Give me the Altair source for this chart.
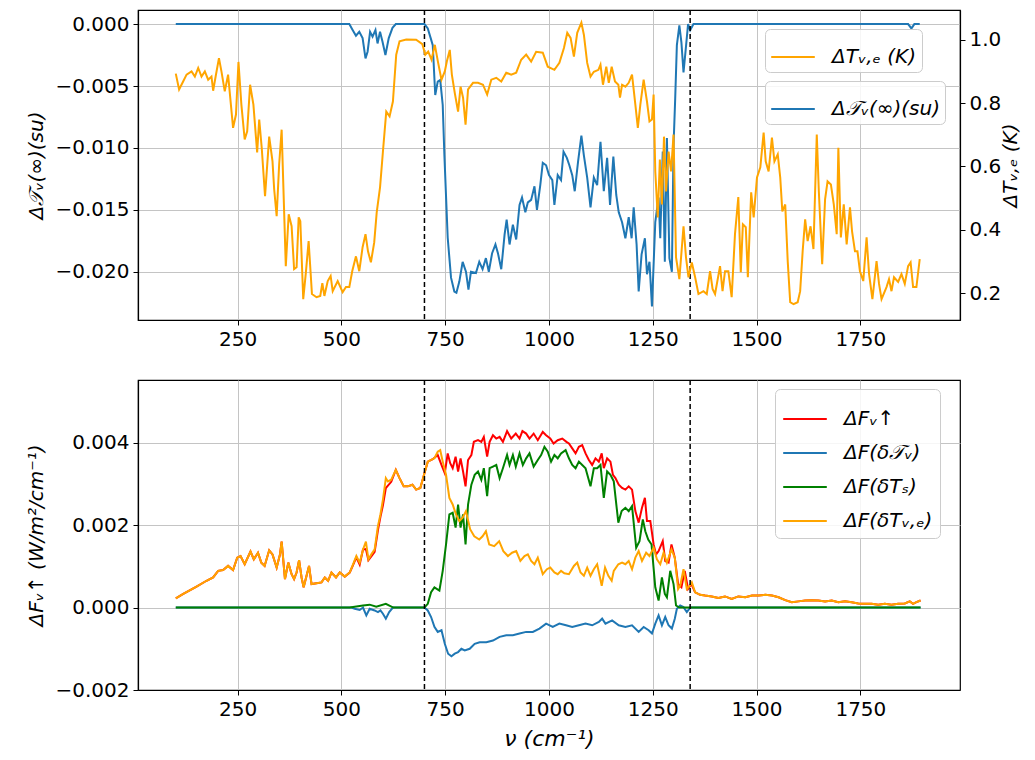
import altair as alt
import pandas as pd

# ---------------- top panel ----------------
# change of spectral transmittance (left axis, su)
tau_nu = [101, 519, 527, 535, 543, 551, 558, 563, 569, 575, 582, 587, 593, 599, 606, 614, 623, 631,
          700, 708, 715, 720, 726, 732, 738, 744, 748, 756, 764, 772, 777, 784, 792, 800, 806, 812,
          824, 832, 840, 848, 855, 863, 871, 877, 885, 893, 898, 905, 913, 921, 929, 935, 943, 949,
          957, 965, 971, 979, 985, 993, 1000, 1008, 1013, 1021, 1029, 1035, 1043, 1049, 1056, 1062,
          1070, 1078, 1084, 1092, 1100, 1108, 1116, 1124, 1132, 1140, 1147, 1155, 1162, 1168, 1176,
          1184, 1192, 1199, 1204, 1211, 1216, 1223, 1231, 1236, 1242, 1248, 1256, 1264, 1268, 1274,
          1279, 1284, 1290, 1296, 1300, 1304, 1308, 1314, 1319, 1324, 1328, 1335, 1340, 1348, 1865,
          1873, 1880, 1893]
tau_val = [0, 0, -0.00048, -0.00094, -0.00062, -0.00113, -0.00277, -0.00223, -0.00062, -0.00102,
           -0.00048, -0.00156, -0.00062, -0.00142, -0.0025, -0.00113, -0.0003, 0,
           0, -0.00035, -0.00113, -0.0017, -0.00573, -0.00465, -0.00452, -0.00653, -0.01056, -0.01726,
           -0.02048, -0.0216, -0.0217, -0.0208, -0.0192, -0.0200, -0.02145, -0.0200,
           -0.0201, -0.0192, -0.0198, -0.0189, -0.0200, -0.0185, -0.0178, -0.0185, -0.0198, -0.0170,
           -0.0158, -0.0178, -0.0162, -0.0174, -0.0146, -0.0140, -0.0152, -0.0144,
           -0.0142, -0.0131, -0.0150, -0.0130, -0.0112, -0.0114, -0.0122, -0.0126, -0.0146, -0.0122,
           -0.0126, -0.0103, -0.0108, -0.0114, -0.0122, -0.0135,
           -0.0111, -0.0090, -0.0106, -0.0124, -0.0148, -0.0124, -0.0130, -0.0095, -0.0135, -0.0108,
           -0.0146, -0.0107, -0.0138, -0.0152, -0.0160,
           -0.0173, -0.0156, -0.0173, -0.0148, -0.0178, -0.0216, -0.0186, -0.0173, -0.0202, -0.0192,
           -0.0228, -0.0160, -0.0140, -0.0173, -0.0103,
           -0.0192, -0.0092, -0.0189, -0.0200, -0.0098, -0.0060, -0.0017, -0.0001, -0.0015, -0.0039,
           -0.0025, 0, -0.0005, 0, 0,
           -0.00035, 0, 0]

# change of emission temperature (right axis, K)
te_nu = [101, 109, 119, 127, 139, 147, 155, 163, 171, 179, 187, 191, 197, 205, 211, 219, 227, 239,
         246, 252, 259, 267, 273, 280, 288, 297, 302, 308, 316, 326, 334, 338, 344, 350, 356, 366,
         373, 380, 386, 392, 397, 401, 408, 414, 421, 429, 440, 449, 454, 459, 467, 474, 479, 491,
         503, 511, 519, 526, 535, 543, 551, 558, 564, 571, 579, 585, 593, 600, 608, 616, 624, 632,
         640, 656, 680, 695, 702, 709, 717, 725, 733, 741, 749, 754, 761, 766, 773, 781, 787, 793,
         799, 805, 817, 829, 841, 851, 861, 873, 885, 897, 909, 921, 933, 945, 957, 969, 985, 997,
         1013, 1025, 1036, 1044, 1052, 1060, 1068, 1078, 1084, 1092, 1100, 1108, 1119, 1124, 1130,
         1138, 1144, 1151, 1159, 1167, 1171, 1176, 1184, 1192, 1200, 1208, 1214, 1220, 1228, 1236,
         1242, 1248, 1252, 1256, 1262, 1267, 1272, 1277, 1282, 1288, 1294, 1300, 1306, 1314, 1324,
         1330, 1336, 1344, 1352, 1360, 1372, 1380, 1388, 1394, 1400, 1412, 1418, 1424, 1432, 1440,
         1448, 1456, 1462, 1467, 1474, 1479, 1487, 1493, 1501, 1509, 1517, 1522, 1529, 1537, 1543,
         1551, 1557, 1562, 1569, 1575, 1581, 1589, 1599, 1605, 1611, 1617, 1623, 1630, 1637, 1645,
         1650, 1658, 1665, 1671, 1679, 1686, 1693, 1697, 1703, 1710, 1717, 1725, 1730, 1737, 1743,
         1749, 1757, 1765, 1771, 1779, 1789, 1795, 1801, 1813, 1819, 1825, 1831, 1841, 1849, 1857,
         1865, 1871, 1877, 1885, 1893]
te_val = [0.893, 0.843, 0.869, 0.890, 0.900, 0.884, 0.911, 0.884, 0.900, 0.874, 0.884, 0.839, 0.884,
          0.942, 0.900, 0.837, 0.890, 0.722,
          0.764, 0.930, 0.795, 0.685, 0.711, 0.858, 0.795, 0.644, 0.748, 0.659, 0.506, 0.694, 0.616,
          0.528, 0.443, 0.606, 0.716, 0.285,
          0.449, 0.411, 0.276, 0.282, 0.439, 0.427, 0.181, 0.260, 0.364, 0.197, 0.187, 0.191, 0.231,
          0.191, 0.238, 0.254, 0.206, 0.238,
          0.203, 0.219, 0.219, 0.269, 0.316, 0.269, 0.345, 0.386, 0.332, 0.297, 0.360, 0.455, 0.534,
          0.647, 0.773, 0.758, 0.805, 0.953,
          0.995, 1.001, 1.000, 0.986, 0.953, 0.963, 0.937, 0.984, 0.927, 0.874, 0.900, 0.932, 0.968,
          0.890, 0.832, 0.773, 0.852, 0.817,
          0.732, 0.843, 0.864, 0.864, 0.858, 0.827, 0.874, 0.880, 0.868, 0.896, 0.890, 0.896, 0.937,
          0.953, 0.931, 0.962, 0.959, 0.915,
          0.905, 0.927, 0.974, 1.022, 1.006, 0.947, 1.022, 1.054, 1.016, 0.927, 0.884, 0.899, 0.905,
          0.921, 0.858,
          0.915, 0.864, 0.915, 0.868, 0.858, 0.817, 0.858, 0.852, 0.864, 0.890, 0.795, 0.722, 0.795,
          0.874, 0.805,
          0.742, 0.748, 0.827, 0.584, 0.439, 0.622, 0.480, 0.694, 0.521, 0.647, 0.584, 0.701, 0.313,
          0.244, 0.411,
          0.313, 0.250, 0.297, 0.250, 0.197, 0.206, 0.197, 0.269, 0.213, 0.197, 0.285, 0.206, 0.269,
          0.269, 0.187,
          0.386, 0.503, 0.266, 0.417, 0.408, 0.250, 0.518, 0.439, 0.565, 0.597, 0.707, 0.616, 0.584,
          0.691, 0.616,
          0.638, 0.565, 0.458, 0.480, 0.301, 0.171, 0.165, 0.171, 0.206, 0.332, 0.433, 0.364, 0.411,
          0.339, 0.701,
          0.521, 0.291, 0.496, 0.553, 0.543, 0.480, 0.386, 0.659, 0.376, 0.480, 0.354, 0.471, 0.395,
          0.332, 0.332,
          0.269, 0.238, 0.376, 0.260, 0.181, 0.301, 0.229, 0.181, 0.219, 0.244, 0.206, 0.250, 0.235,
          0.260, 0.229,
          0.285, 0.297, 0.219, 0.219, 0.307]

# window edges (dashed lines)
window_edges = [700, 1340]

# ---------------- bottom panel ----------------
# emission-temperature contribution
fe_nu = [101, 119, 151, 175, 191, 203, 215, 227, 239, 249, 257, 267, 281, 289, 299, 307, 315, 326,
         334, 344, 352, 356, 364, 372, 380, 386, 392, 398, 404, 409, 416, 422, 428, 440, 452, 460,
         468, 476, 487, 496, 508, 520, 528, 536, 544, 552, 559, 565, 572, 580, 588, 594, 600, 607,
         612, 620, 631, 640, 650, 660, 671, 680, 690, 700, 708, 716, 724, 732, 738, 744, 752, 760,
         768, 776, 784, 792, 800, 810, 820, 832, 840, 848, 856, 868, 880, 890, 901, 911, 921, 931,
         941, 949, 957, 965, 973, 985, 995, 1003, 1013, 1021, 1029, 1037, 1048, 1060, 1068, 1076,
         1084, 1092, 1100, 1108, 1116, 1127, 1135, 1143, 1151, 1156, 1167, 1176, 1184, 1192, 1200,
         1208, 1216, 1224, 1234, 1242, 1252, 1260, 1268, 1276, 1284, 1295, 1303, 1311, 1316, 1324,
         1332, 1339, 1344, 1352, 1364, 1376, 1392, 1408, 1424, 1440, 1456, 1473, 1489, 1505, 1521,
         1537, 1553, 1569, 1585, 1601, 1617, 1633, 1649, 1665, 1681, 1697, 1713, 1729, 1745, 1761,
         1777, 1793, 1809, 1825, 1841, 1857, 1869, 1877, 1885, 1895]
fe_val = [0.000225, 0.00033, 0.00051, 0.00065, 0.00073, 0.00089, 0.00091, 0.00101, 0.00091, 0.00121,
          0.00125, 0.00105, 0.00136, 0.00117, 0.00133, 0.00109, 0.00101, 0.00139,
          0.00129, 0.00097, 0.00129, 0.00160, 0.00069, 0.00109, 0.00081, 0.00069, 0.00085, 0.00115,
          0.00073, 0.00049, 0.00077, 0.00101, 0.00057, 0.00059, 0.00061, 0.00073,
          0.00065, 0.00085, 0.00073, 0.00085, 0.00075, 0.00085, 0.00105, 0.00125, 0.00109, 0.00141,
          0.00160, 0.00117, 0.00129, 0.00141, 0.00198, 0.00226, 0.00262, 0.00314,
          0.00306, 0.00310, 0.00334, 0.00314, 0.00294, 0.00294, 0.00298, 0.00286, 0.00290, 0.00326,
          0.00354, 0.00358, 0.00362, 0.00378, 0.00382, 0.00354, 0.00322, 0.00266,
          0.00250, 0.00226, 0.00210, 0.00218, 0.00234, 0.00190, 0.00173, 0.00165, 0.00173, 0.00185,
          0.00153, 0.00149, 0.00161, 0.00137, 0.00125, 0.00133, 0.00137, 0.00113,
          0.00125, 0.00129, 0.00113, 0.00105, 0.00121, 0.00081, 0.00093, 0.00097, 0.00085, 0.00081,
          0.00089, 0.00083, 0.00081, 0.00101, 0.00109, 0.00085,
          0.00077, 0.00097, 0.00077, 0.00093, 0.00105, 0.00053, 0.00097, 0.00077, 0.00065, 0.00089,
          0.00105, 0.00109, 0.00105, 0.00113, 0.00093,
          0.00121, 0.00137, 0.00113, 0.00133, 0.00125, 0.00145, 0.00117, 0.00105, 0.00133, 0.00109,
          0.00141, 0.00121, 0.00045, 0.00053, 0.00093,
          0.00045, 0.00053, 0.00061, 0.00037, 0.00031, 0.00029, 0.00027, 0.00023, 0.00027, 0.00021,
          0.00027, 0.00025, 0.00029, 0.00029, 0.00031,
          0.00029, 0.00025, 0.00018, 0.00013, 0.00015, 0.00017, 0.00018, 0.00017, 0.00015, 0.00017,
          0.00013, 0.00015, 0.00013, 0.00010, 0.00009,
          0.00009, 0.00007, 0.00009, 0.00007, 0.00009, 0.00010, 0.00015, 0.00009, 0.00013, 0.00017]

# total flux change
ft_nu = [101, 119, 151, 175, 191, 203, 215, 227, 239, 249, 257, 267, 281, 289, 299, 307, 315, 326,
         334, 344, 352, 356, 364, 372, 380, 386, 392, 398, 404, 409, 416, 422, 428, 440, 452, 460,
         468, 476, 487, 496, 508, 520, 528, 536, 544, 552, 559, 565, 572, 580, 588, 594, 600, 607,
         612, 620, 631, 640, 650, 660, 671, 680, 690, 700, 708, 720, 732, 741, 749, 756, 762, 768,
         775, 781, 787, 793, 799, 805, 813, 819, 829, 837, 843, 851, 857, 865, 873, 881, 889, 899,
         909, 920, 929, 936, 945, 953, 963, 973, 985, 993, 1003, 1011, 1021, 1032, 1042, 1048, 1056,
         1064, 1072, 1080, 1088, 1096, 1104, 1112, 1120, 1127, 1132, 1140, 1148, 1154, 1160, 1168,
         1176, 1184, 1192, 1200, 1208, 1216, 1224, 1231, 1236, 1244, 1252, 1258, 1264, 1274, 1280,
         1288, 1295, 1303, 1311, 1319, 1327, 1335, 1343, 1352, 1364, 1376, 1392, 1408, 1424, 1440,
         1456, 1473, 1489, 1505, 1521, 1537, 1553, 1569, 1585, 1601, 1617, 1633, 1649, 1665, 1681,
         1697, 1713, 1729, 1745, 1761, 1777, 1793, 1809, 1825, 1841, 1857, 1869, 1877, 1885, 1895]
ft_val = [0.000225, 0.00033, 0.00051, 0.00065, 0.00073, 0.00089, 0.00091, 0.00101, 0.00091, 0.00121,
          0.00125, 0.00105, 0.00136, 0.00117, 0.00133, 0.00109, 0.00101, 0.00139,
          0.00129, 0.00097, 0.00129, 0.00160, 0.00069, 0.00109, 0.00081, 0.00069, 0.00085, 0.00115,
          0.00073, 0.00049, 0.00077, 0.00101, 0.00057, 0.00059, 0.00061, 0.00073,
          0.00065, 0.00085, 0.00073, 0.00085, 0.00075, 0.00085, 0.00103, 0.00122, 0.00104, 0.00141,
          0.00142, 0.00115, 0.00124, 0.00135, 0.00188, 0.00220, 0.00248, 0.00290,
          0.00296, 0.00305, 0.00334, 0.00314, 0.00294, 0.00294, 0.00298, 0.00286, 0.00290, 0.00326,
          0.00354, 0.00360, 0.00370, 0.00346, 0.00326, 0.00374, 0.00350, 0.00338,
          0.00366, 0.00330, 0.00362, 0.00330, 0.00294, 0.00358, 0.00370, 0.00402, 0.00406, 0.00402,
          0.00414, 0.00366, 0.00402, 0.00418, 0.00410, 0.00414, 0.00402, 0.00428,
          0.00410, 0.00422, 0.00410, 0.00428, 0.00422, 0.00410, 0.00422, 0.00406, 0.00426, 0.00418,
          0.00410, 0.00398, 0.00406, 0.00410, 0.00402, 0.00398, 0.00386,
          0.00374, 0.00390, 0.00394, 0.00374, 0.00358, 0.00346, 0.00362, 0.00354, 0.00374, 0.00338,
          0.00362, 0.00354, 0.00322, 0.00314, 0.00298,
          0.00290, 0.00286, 0.00294, 0.00286, 0.00234, 0.00206, 0.00242, 0.00266, 0.00210, 0.00210,
          0.00153, 0.00129, 0.00137, 0.00161, 0.00113,
          0.00109, 0.00153, 0.00121, 0.00057, 0.00049, 0.00089, 0.00045, 0.00057, 0.00037, 0.00031,
          0.00029, 0.00027, 0.00023, 0.00027, 0.00021,
          0.00027, 0.00025, 0.00029, 0.00029, 0.00031, 0.00029, 0.00025, 0.00018, 0.00013, 0.00015,
          0.00017, 0.00018, 0.00017, 0.00015, 0.00017,
          0.00013, 0.00015, 0.00013, 0.00010, 0.00009, 0.00009, 0.00007, 0.00009, 0.00007, 0.00009,
          0.00010, 0.00015, 0.00009, 0.00013, 0.00017]

# transmittance contribution
fa_nu = [101, 524, 532, 544, 552, 560, 568, 580, 588, 594, 600, 607, 615, 624, 700, 708, 716, 724,
         732, 741, 749, 757, 765, 773, 781, 789, 797, 809, 821, 833, 849, 865, 881, 897, 913, 929,
         945, 961, 977, 993, 1009, 1025, 1041, 1056, 1072, 1088, 1104, 1120, 1128, 1136, 1152, 1168,
         1184, 1200, 1216, 1228, 1240, 1248, 1256, 1264, 1272, 1280, 1288, 1296, 1303, 1308, 1316,
         1324, 1332, 1340, 1352, 1895]
fa_val = [0, 0, -0.00003, -0.00006, 0, -0.00019, -0.00003, -0.00007, -0.00011, -0.00007, -0.00015,
          -0.00027, -0.00011, 0, 0, -0.00007, -0.00023, -0.00047,
          -0.00059, -0.00055, -0.00088, -0.00112, -0.00118, -0.00112, -0.00108, -0.00100, -0.00104,
          -0.00100, -0.00088, -0.00084, -0.00084, -0.00080, -0.00071, -0.00067, -0.00067, -0.00063,
          -0.00059, -0.00059, -0.00051, -0.00039, -0.00047, -0.00039, -0.00043, -0.00047, -0.00043,
          -0.00039, -0.00043, -0.00035, -0.00027, -0.00039, -0.00031, -0.00043,
          -0.00047, -0.00043, -0.00059, -0.00047, -0.00055, -0.00063, -0.00039, -0.00019, -0.00043,
          -0.00023, -0.00043, -0.00051, -0.00027, -0.00003, 0.00005,
          0.00001, -0.00011, 0, 0, 0]

# surface-temperature contribution
fs_nu = [101, 520, 552, 568, 584, 607, 625, 700, 708, 716, 724, 736, 744, 752, 760, 768, 775, 781,
         787, 793, 799, 805, 813, 821, 829, 837, 843, 851, 857, 865, 873, 881, 889, 899, 905, 913,
         920, 929, 937, 945, 953, 963, 973, 981, 989, 997, 1005, 1013, 1021, 1029, 1040, 1048, 1056,
         1064, 1072, 1080, 1088, 1100, 1108, 1116, 1124, 1132, 1140, 1148, 1156, 1167, 1175, 1184,
         1192, 1200, 1210, 1218, 1226, 1232, 1239, 1247, 1256, 1264, 1272, 1279, 1284, 1292, 1300,
         1306, 1314, 1895]
fs_val = [0, 0, 0.00005, 0.00007, 0.00002, 0.00009, 0, 0, 0.00009, 0.00037, 0.00049, 0.00041,
          0.00089, 0.00153, 0.00226, 0.00230, 0.00194, 0.00250,
          0.00194, 0.00226, 0.00153, 0.00250, 0.00298, 0.00322, 0.00330, 0.00310, 0.00338, 0.00270,
          0.00338, 0.00342, 0.00346, 0.00314, 0.00338, 0.00370, 0.00346, 0.00370,
          0.00342, 0.00374, 0.00346, 0.00362, 0.00374, 0.00342, 0.00358, 0.00370, 0.00390, 0.00378,
          0.00354, 0.00370, 0.00362, 0.00374, 0.00382, 0.00362, 0.00346,
          0.00338, 0.00354, 0.00346, 0.00338, 0.00294, 0.00338, 0.00338, 0.00346, 0.00266, 0.00330,
          0.00322, 0.00306, 0.00206, 0.00234, 0.00242,
          0.00234, 0.00246, 0.00145, 0.00161, 0.00214, 0.00185, 0.00165, 0.00153, 0.00049, 0.00017,
          0.00073, 0.00033, 0.00025, 0.00089, 0.00057,
          0.00005, 0, 0]

# ---------------- chart ----------------
FONT = "DejaVu Sans"
x_scale = alt.Scale(domain=[10, 1990], nice=False, zero=False)
x_ticks = [250, 500, 750, 1000, 1250, 1500, 1750]

top_labels = ["ΔTᵥ,ₑ (K)", "Δ𝒯ᵥ(∞)(su)"]
top_colors = ["#ffa500", "#1f77b4"]
bot_labels = ["ΔFᵥ↑", "ΔF(δ𝒯ᵥ)", "ΔF(δTₛ)", "ΔF(δTᵥ,ₑ)"]
bot_colors = ["#ff0000", "#1f77b4", "#008000", "#ffa500"]

MINUS_3F = ("datum.value < 0 ? '\u2212' + format(-datum.value, '.3f') "
            ": format(datum.value, '.3f')")


def frame(nu, val):
    return pd.DataFrame({"nu": nu, "val": val})


def legend(x, y, row_pad, pad):
    return alt.Legend(
        title=None, orient="none", legendX=x, legendY=y,
        symbolType="stroke", symbolSize=1900, symbolStrokeWidth=2,
        labelFont=FONT, labelFontSize=20, labelFontStyle="italic", labelColor="black",
        labelOffset=16, rowPadding=row_pad, labelLimit=300,
        fillColor="rgba(255,255,255,0.85)", strokeColor="#cccccc", cornerRadius=5,
        padding=pad,
    )


x_top = alt.X("nu:Q", scale=x_scale,
              axis=alt.Axis(values=x_ticks, title=None, grid=True, format="d"))
x_bot = alt.X("nu:Q", scale=x_scale,
              axis=alt.Axis(values=x_ticks, title="ν (cm⁻¹)", grid=True, format="d",
                            titleFontSize=22, titleFontStyle="italic", titlePadding=9))

# top panel
blue_top = alt.Chart(frame(tau_nu, tau_val)).mark_line(strokeWidth=2).encode(
    x=x_top,
    y=alt.Y("val:Q", scale=alt.Scale(domain=[-0.0239, 0.00114], nice=False, zero=False),
            axis=alt.Axis(orient="left", values=[0, -0.005, -0.01, -0.015, -0.02],
                          labelExpr=MINUS_3F,
                          title="Δ𝒯ᵥ(∞)(su)", titleFontStyle="italic", grid=True)),
    color=alt.Color("s:N", scale=alt.Scale(domain=[top_labels[1]], range=[top_colors[1]]),
                    legend=legend(627, 71, 2, 5)),
).transform_calculate(s=f"'{top_labels[1]}'")

rules_top = alt.Chart(pd.DataFrame({"nu": window_edges})).mark_rule(
    color="black", strokeDash=[5, 3], strokeWidth=1.5).encode(x=alt.X("nu:Q", scale=x_scale))

orange_top = alt.Chart(frame(te_nu, te_val)).mark_line(strokeWidth=2).encode(
    x=x_top,
    y=alt.Y("val:Q", scale=alt.Scale(domain=[0.115, 1.094], nice=False, zero=False),
            axis=alt.Axis(orient="right", values=[0.2, 0.4, 0.6, 0.8, 1.0], format=".1f",
                          title="ΔTᵥ,ₑ (K)", titleAngle=270, titleBaseline="bottom",
                          titleFontStyle="italic", grid=False, titlePadding=20)),
    color=alt.Color("s:N", scale=alt.Scale(domain=[top_labels[0]], range=[top_colors[0]]),
                    legend=legend(627, 19, 2, 5)),
).transform_calculate(s=f"'{top_labels[0]}'")

top = alt.layer(blue_top, rules_top, orange_top).resolve_scale(
    y="independent", color="independent").properties(width=822, height=310)

# bottom panel
y_bot = alt.Y("val:Q", scale=alt.Scale(domain=[-0.002, 0.00552], nice=False, zero=False),
              axis=alt.Axis(values=[-0.002, 0, 0.002, 0.004], labelExpr=MINUS_3F,
                            title="ΔFᵥ↑ (W/m²/cm⁻¹)", titleFontStyle="italic", grid=True))
color_bot = alt.Scale(domain=bot_labels, range=bot_colors)


def bot_line(nu, val, label):
    return alt.Chart(frame(nu, val)).mark_line(strokeWidth=2).encode(
        x=x_bot, y=y_bot,
        color=alt.Color("s:N", scale=color_bot, sort=bot_labels, legend=legend(637, 9, 1, 7)),
    ).transform_calculate(s=f"'{label}'")


rules_bot = alt.Chart(pd.DataFrame({"nu": window_edges})).mark_rule(
    color="black", strokeDash=[5, 3], strokeWidth=1.5).encode(x=alt.X("nu:Q", scale=x_scale))

bottom = alt.layer(
    bot_line(ft_nu, ft_val, bot_labels[0]),
    bot_line(fa_nu, fa_val, bot_labels[1]),
    bot_line(fs_nu, fs_val, bot_labels[2]),
    bot_line(fe_nu, fe_val, bot_labels[3]),
    rules_bot,
).properties(width=822, height=310)

chart = alt.vconcat(top, bottom, spacing=28).resolve_scale(color="independent").properties(
    padding={"left": 18, "top": 0, "right": 0, "bottom": 0}
).configure(font=FONT).configure_view(stroke="black", strokeWidth=1.2).configure_axis(
    labelFont=FONT, labelFontSize=20, labelColor="black",
    titleFont=FONT, titleFontSize=20, titleColor="black", titleFontWeight="normal",
    tickColor="black", tickSize=5, domainColor="black", domainWidth=1.2,
    gridColor="#c4c4c4", gridWidth=1, labelPadding=4, titlePadding=8,
)

chart.save("out.html", embed_options={"renderer": "svg", "actions": False})
